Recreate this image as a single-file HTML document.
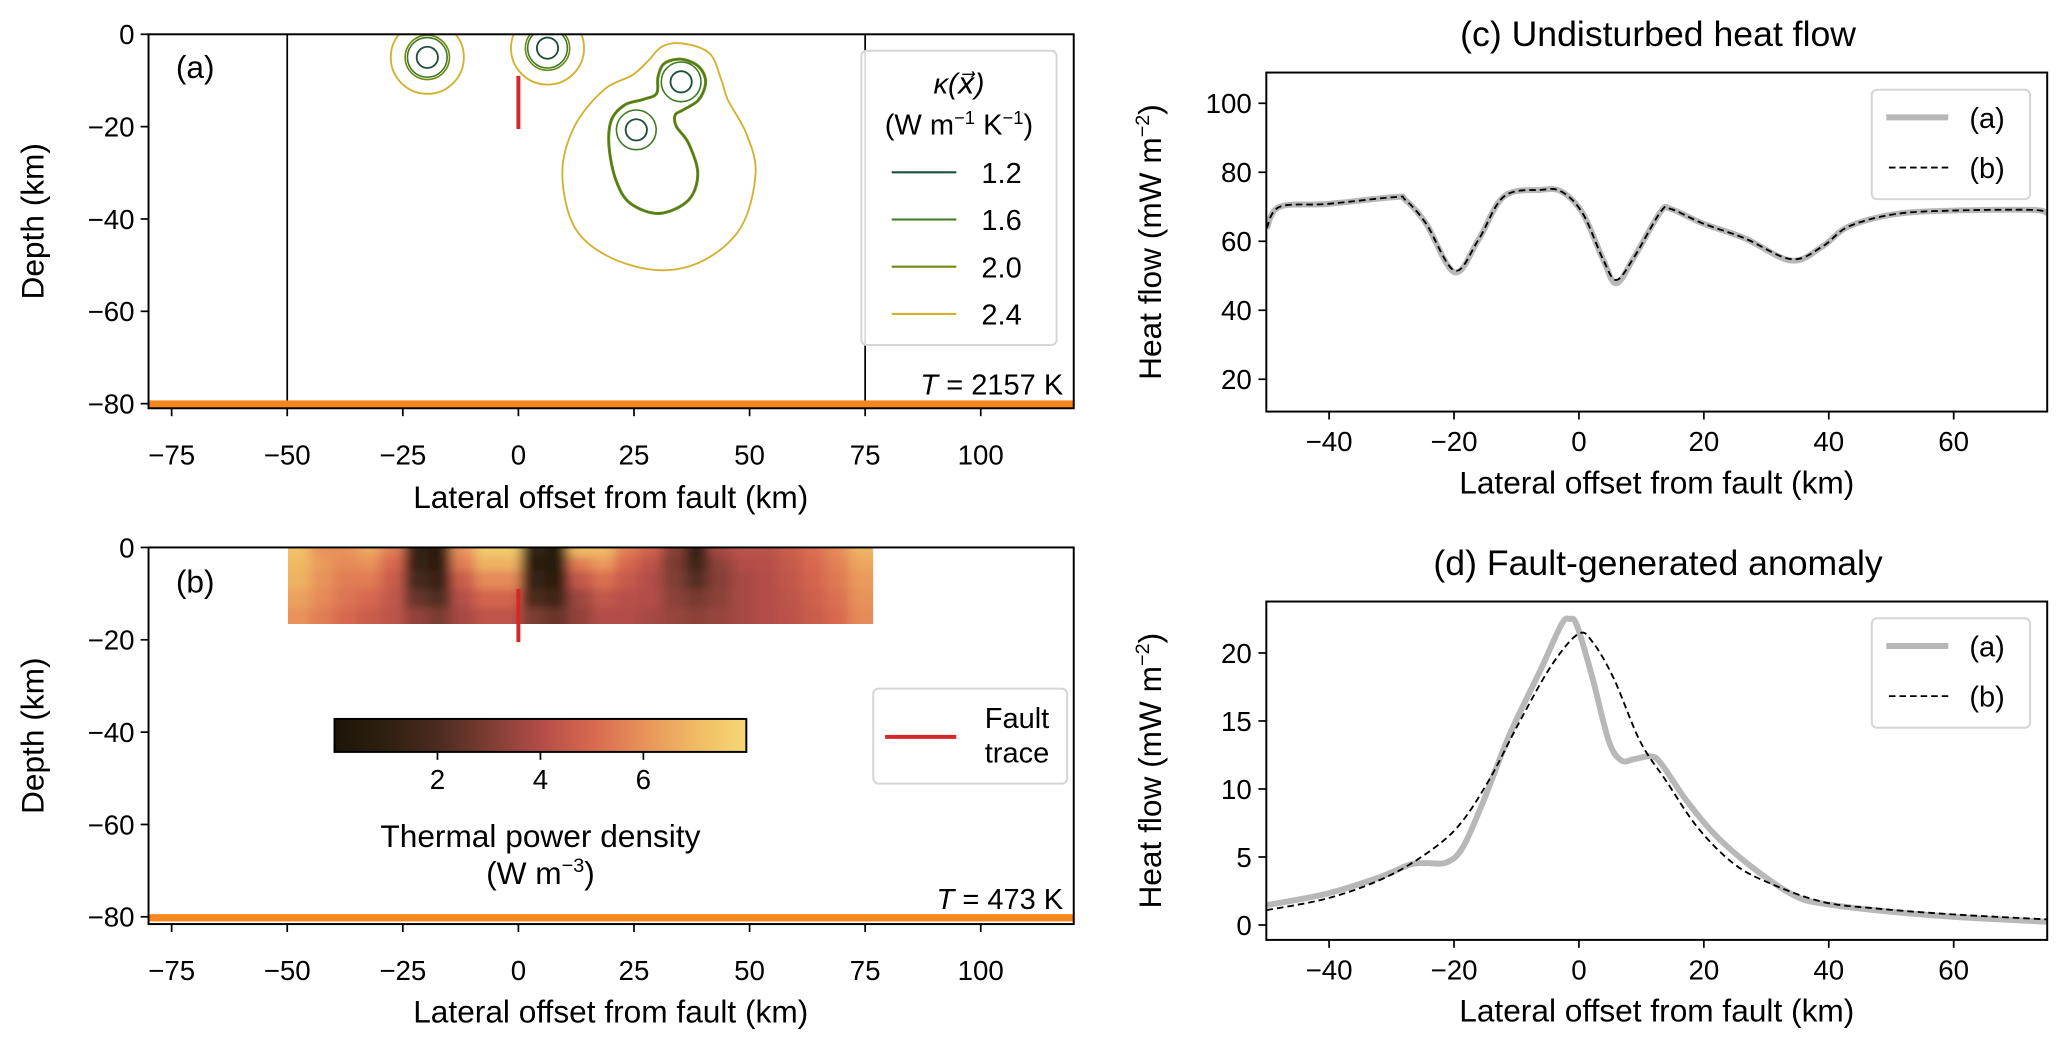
<!DOCTYPE html>
<html><head><meta charset="utf-8">
<style>
html,body{margin:0;padding:0;background:#fff;}
svg{display:block;font-family:"Liberation Sans",sans-serif;}
</style></head>
<body>
<svg id="chart" xmlns="http://www.w3.org/2000/svg" width="2067" height="1054" viewBox="0 0 1567 799" preserveAspectRatio="none">
<defs>
<filter id="heatblur" x="-5%" y="-20%" width="110%" height="140%"><feGaussianBlur stdDeviation="4.5 3"/></filter>
<clipPath id="heatclip"><rect x="218.3" y="415" width="443.6" height="58"/></clipPath>
<clipPath id="clipA"><rect x="112.6" y="26" width="701.4" height="283.5"/></clipPath>
<clipPath id="clipC"><rect x="960" y="55" width="592" height="257"/></clipPath>
<clipPath id="clipD"><rect x="960" y="456" width="592" height="256.5"/></clipPath>
<linearGradient id="cbgrad" x1="0" x2="1" y1="0" y2="0"></linearGradient>
</defs>
</svg>
<script>
// ---------- DATA ----------
const cX_a = [-50,-47.9,-40.4,-29.5,-27.8,-24.5,-19.9,-16.1,-12,-6.1,-2.8,0.6,3.9,6,8.9,13.1,14.8,19.8,26.5,34,39,43.2,50.7,59.9,72.5,75];
const cY_a = [63.8,70.0,70.8,72.8,72.0,65.2,51.0,60.4,73.0,74.9,74.4,68.1,54.6,47.8,55.6,68.6,69.3,65.2,60.9,54.4,58.5,64.3,67.9,68.9,69.1,68.1];
const cX_b = [-50,-47.9,-40.4,-29.5,-27.8,-24.5,-19.9,-16.1,-12,-6.1,-2.8,0.6,3.9,6,8.9,13.1,14.8,19.8,26.5,34,39,43.2,50.7,59.9,72.5,75];
const cY_b = [63.8,70.0,70.8,72.8,72.0,65.2,51.5,60.4,73.0,74.9,74.4,68.1,54.6,48.8,55.6,68.6,69.3,65.2,60.9,54.8,58.5,64.3,67.9,68.9,69.1,68.1];
const dX_a = [-50,-40.4,-32,-27,-24.5,-21.2,-18.6,-15.3,-11.1,-6.1,-2.8,-1.5,-0.3,2.2,4.8,6.8,8.9,11.4,13.1,17.3,22.3,29,34.9,39,47.4,59.9,75];
const dY_a = [1.46,2.3,3.5,4.45,4.55,4.6,5.7,9.1,14.0,18.8,22.1,22.5,22.0,18.1,13.5,12.1,12.2,12.4,11.9,9.1,6.4,3.8,2.07,1.58,1.09,0.6,0.24];
const dX_b = [-50,-40.4,-32,-25.3,-19.5,-14.5,-9.5,-4.4,-0.1,2.2,5.6,9.8,14,19,24.8,30.7,39,47.4,59.9,75];
const dY_b = [1.09,1.94,3.28,4.98,7.17,10.57,14.95,19.08,21.4,20.8,18.1,13.5,10.57,7.17,4.5,3.04,1.7,1.22,0.78,0.41];
const circleCenters = [[-19.7,-5],[6.3,-3]];
const innerCenters = [[-19.7,-5],[6.3,-3],[35.2,-10.3],[25.5,-20.7]];
const contourLevels = ['1.2','1.6','2.0','2.4'];
const contourColors = ['#1d4f3a','#3f7a22','#6e8a12','#d2b12f'];
const ringRadii = [2.3,4.3,4.8,7.9];
const blobMid = [[35.3,-5.4],[39.0,-7.0],[40.5,-10.3],[39.0,-14.2],[35.6,-16.4],[33.9,-17.5],[34.2,-20.0],[36.8,-23.6],[38.8,-30.1],[36.8,-35.9],[30.5,-38.8],[24.2,-36.6],[21.1,-31.6],[19.6,-24.3],[20.1,-18.6],[23.0,-15.3],[27.0,-14.1],[29.9,-12.8],[30.2,-9.2],[31.6,-6.3]];
const blobOuter = [[35.3,-1.95],[41.3,-4.1],[43.9,-9.9],[45.3,-14.2],[49.3,-21.5],[51.3,-30.1],[48.2,-41.7],[40.2,-48.9],[30.5,-51.1],[19.6,-48.2],[12.1,-41.7],[9.5,-30.1],[12.1,-20.0],[18.4,-12.1],[24.7,-8.8],[28.2,-5.6],[31.0,-2.7]];
const heatXmin = -50, heatXmax = 76.5;
const heatRowDepths = [0,-2,-5,-9,-13,-16.5];
const heatRows = [
 [7.2,6.0,6.0,6.5,5.5,1.2,0.8,6.0,7.5,7.5,1.2,0.6,7.0,7.0,5.5,4.8,3.2,1.2,3.8,4.2,4.2,4.6,5.2,5.8,6.8],
 [7.0,6.2,5.8,6.0,5.0,1.2,0.9,5.5,6.8,6.8,0.8,0.6,5.5,6.2,5.0,4.3,3.0,1.5,3.3,4.0,4.1,4.5,5.0,5.6,6.5],
 [6.8,6.0,5.5,5.5,4.6,1.8,1.3,4.6,5.8,5.8,1.2,0.9,4.4,5.2,4.5,4.0,3.1,2.2,3.2,3.8,4.0,4.4,4.9,5.4,6.2],
 [6.4,5.8,5.3,5.0,4.4,2.6,2.1,4.1,4.9,4.9,2.0,1.6,3.6,4.4,4.1,4.0,3.3,2.9,3.3,3.8,4.0,4.3,4.7,5.2,6.0],
 [6.0,5.5,5.0,4.6,4.3,3.4,3.0,3.8,4.3,4.3,3.0,2.6,3.4,4.0,4.0,3.8,3.5,3.3,3.5,3.8,4.0,4.2,4.6,5.0,5.8]
];
const cmapVals = [0,1,2,3,4,5,6,7,8];
const cmapCols = ['#1c1608','#2f1f10','#4b2b1f','#7c3d33','#b24d48','#d8684f','#e8925a','#f0ba65','#f6d874'];
const cbTicks = [2,4,6];
const tickA_x = [-75,-50,-25,0,25,50,75,100];
const tickA_y = [0,-20,-40,-60,-80];
const tickC_x = [-40,-20,0,20,40,60];
const tickC_y = [20,40,60,80,100];
const tickD_y = [0,5,10,15,20];

// ---------- SCALES ----------
const xA = k => 393 + k*3.505;
const yA = d => 26 - d*3.5;
const yB = d => 415 - d*3.5;
const xC = k => 1197 + k*4.735;
const yC = v => 287.5 - (v-20)*2.615;
const yD = v => 701.2 - v*10.31;

const FT = 21, FL = 24, FTI = 27, FLG = 22;

const svg = document.getElementById('chart');
const NS = 'http://www.w3.org/2000/svg';
function mk(tag, attrs, parent){
  const e = document.createElementNS(NS, tag);
  for (const k in attrs) e.setAttribute(k, attrs[k]);
  (parent || svg).appendChild(e);
  return e;
}
function txt(x, y, s, size, anchor, parent){
  const e = mk('text', {x:x, y:y, 'font-size':size, 'text-anchor':anchor||'middle', fill:'#000'}, parent);
  e.textContent = s;
  return e;
}
function smooth(pts, closed){
  const n = pts.length;
  const g = i => closed ? pts[(i+n)%n] : pts[Math.max(0, Math.min(n-1, i))];
  let d = 'M' + pts[0][0].toFixed(2) + ',' + pts[0][1].toFixed(2);
  const m = closed ? n : n-1;
  for (let i=0;i<m;i++){
    const p0=g(i-1), p1=g(i), p2=g(i+1), p3=g(i+2);
    const c1=[p1[0]+(p2[0]-p0[0])/6, p1[1]+(p2[1]-p0[1])/6];
    const c2=[p2[0]-(p3[0]-p1[0])/6, p2[1]-(p3[1]-p1[1])/6];
    d += 'C'+c1[0].toFixed(2)+','+c1[1].toFixed(2)+' '+c2[0].toFixed(2)+','+c2[1].toFixed(2)+' '+p2[0].toFixed(2)+','+p2[1].toFixed(2);
  }
  return d + (closed ? 'Z' : '');
}
function hex2rgb(h){return [1,3,5].map(i=>parseInt(h.substr(i,2),16));}
function cmap(v){
  v = Math.max(cmapVals[0], Math.min(cmapVals[cmapVals.length-1], v));
  for (let i=0;i<cmapVals.length-1;i++){
    if (v <= cmapVals[i+1]){
      const t=(v-cmapVals[i])/(cmapVals[i+1]-cmapVals[i]);
      const a=hex2rgb(cmapCols[i]), b=hex2rgb(cmapCols[i+1]);
      return 'rgb('+a.map((c,j)=>Math.round(c+(b[j]-c)*t)).join(',')+')';
    }
  }
  return cmapCols[cmapCols.length-1];
}
function axisBox(x0,y0,x1,y1,name){
  const r = mk('rect',{x:x0,y:y0,width:x1-x0,height:y1-y0,fill:'none',stroke:'#000','stroke-width':1.5});
  
  
}

// ================= PANEL (a) =================
const gA = mk('g', {});


const gAc = mk('g', {'clip-path':'url(#clipA)'}, gA);


[-50,75].forEach(k=>{
  const l = mk('line',{x1:xA(k),x2:xA(k),y1:26,y2:309.5,stroke:'#000','stroke-width':1.3}, gA);
  
  
});
circleCenters.forEach(c=>{
  const e = mk('ellipse',{cx:xA(c[0]),cy:yA(c[1]),rx:ringRadii[3]*3.505,ry:ringRadii[3]*3.5,fill:'none',stroke:contourColors[3],'stroke-width':1.4}, gAc);
  
  
});
const bo = mk('path',{d:smooth(blobOuter.map(p=>[xA(p[0]),yA(p[1])]),true),fill:'none',stroke:contourColors[3],'stroke-width':1.4}, gAc);


[[2,ringRadii[2]],[1,ringRadii[1]]].forEach(([ci,r])=>{
  circleCenters.forEach(c=>{
    const e = mk('ellipse',{cx:xA(c[0]),cy:yA(c[1]),rx:r*3.505,ry:r*3.5,fill:'none',stroke:contourColors[ci],'stroke-width':1.2}, gAc);
    
    
  });
});
const bm2 = mk('path',{d:smooth(blobMid.map(p=>[xA(p[0]),yA(p[1])]),true),fill:'none',stroke:contourColors[2],'stroke-width':2.3}, gAc);


const bm1 = mk('path',{d:smooth(blobMid.map(p=>[xA(p[0]),yA(p[1])]),true),fill:'none',stroke:contourColors[1],'stroke-width':0.8}, gAc);


innerCenters.forEach((c,i)=>{
  if (i>=2){
    const e2 = mk('ellipse',{cx:xA(c[0]),cy:yA(c[1]),rx:ringRadii[1]*3.505,ry:ringRadii[1]*3.5,fill:'none',stroke:contourColors[1],'stroke-width':1.2}, gAc);
    
    
  }
  const e = mk('ellipse',{cx:xA(c[0]),cy:yA(c[1]),rx:ringRadii[0]*3.505,ry:ringRadii[0]*3.5,fill:'none',stroke:contourColors[0],'stroke-width':1.4}, gAc);
  
  
});
const fa = mk('line',{x1:xA(0),x2:xA(0),y1:yA(-9),y2:yA(-20.5),stroke:'#d62728','stroke-width':3}, gA);


const ba = mk('rect',{x:112.6,y:yA(-79.3),width:701.4,height:yA(-81)-yA(-79.3)-0.5,fill:'#f7861c'}, gA);


axisBox(112.6,26,814,309.5,'axes-frame-a');

// ================= PANEL (b) =================
const gB = mk('g', {});


const gHc = mk('g', {'clip-path':'url(#heatclip)'}, gB);
const gH = mk('g', {filter:'url(#heatblur)'}, gHc);


const nCols = heatRows[0].length;
const colW = (heatXmax-heatXmin)/nCols;
heatRows.forEach((row,ri)=>{
  row.forEach((v,ci)=>{
    let x0 = xA(heatXmin+ci*colW), x1 = xA(heatXmin+(ci+1)*colW);
    let y0 = yB(heatRowDepths[ri]), y1 = yB(heatRowDepths[ri+1]);
    if (ci===0) x0 -= 14;
    if (ci===nCols-1) x1 += 14;
    if (ri===0) y0 -= 14;
    if (ri===heatRows.length-1) y1 += 14;
    const r = mk('rect',{x:x0,y:y0,width:x1-x0+0.6,height:y1-y0+0.6,fill:cmap(v)}, gH);
    
    
  });
});
const fb = mk('line',{x1:xA(0),x2:xA(0),y1:yB(-9),y2:yB(-20.5),stroke:'#d62728','stroke-width':3}, gB);


const bb = mk('rect',{x:112.6,y:693,width:701.4,height:5.5,fill:'#f7861c'}, gB);


axisBox(112.6,415,814,700.5,'axes-frame-b');
const grad = document.getElementById('cbgrad');
cmapVals.forEach((v,i)=>{ mk('stop',{offset:(v/8*100)+'%','stop-color':cmapCols[i]}, grad); });
const cbX0=253.6, cbX1=565.8;
const cbx = v => cbX0 + (v-0)/(8-0)*(cbX1-cbX0);
const cb = mk('rect',{x:cbX0,y:545,width:cbX1-cbX0,height:25,fill:'url(#cbgrad)',stroke:'#000','stroke-width':1.5}, gB);


cbTicks.forEach(t=>{
  mk('line',{x1:cbx(t),x2:cbx(t),y1:570,y2:576,stroke:'#000','stroke-width':1.3}, gB);
  const tl = txt(cbx(t), 598, String(t), FT, 'middle', gB);
  
  
});
const cbl1 = txt(409.7, 642, 'Thermal power density', FL, 'middle', gB);


const cbl2 = mk('text',{x:409.7,y:670,'font-size':FL,'text-anchor':'middle'}, gB);


cbl2.innerHTML = '(W m<tspan font-size="15" dy="-9">−3</tspan><tspan dy="9">)</tspan>';

[[yA,26,309.5,352,385],[yB,415,700.5,743,775]].forEach(([ys,top,bot,tly,xly],pi)=>{
  tickA_x.forEach(k=>{
    mk('line',{x1:xA(k),x2:xA(k),y1:bot,y2:bot+6,stroke:'#000','stroke-width':1.3});
    const t = txt(xA(k), tly, (k<0?'−':'')+Math.abs(k), FT, 'middle');
    
    
  });
  tickA_y.forEach(d=>{
    mk('line',{x1:106.6,x2:112.6,y1:ys(d),y2:ys(d),stroke:'#000','stroke-width':1.3});
    const t = txt(102, ys(d)+7.5, (d<0?'−':'')+Math.abs(d), FT, 'end');
    
    
  });
  const xl = txt(463, xly, 'Lateral offset from fault (km)', FL, 'middle');
  
  
  const cy = (top+bot)/2;
  const yl = mk('text',{x:0,y:0,'font-size':FL,'text-anchor':'middle',transform:'translate(33,'+cy+') rotate(-90)'});
  yl.textContent = 'Depth (km)';
  
  
});
const la = txt(148, 59, '(a)', 24, 'middle');


const lb = txt(148, 449, '(b)', 24, 'middle');


const ta = mk('text',{x:806,y:299,'font-size':FLG,'text-anchor':'end'});
ta.innerHTML = '<tspan font-style="italic">T</tspan> = 2157 K';


const tb = mk('text',{x:806,y:689,'font-size':FLG,'text-anchor':'end'});
tb.innerHTML = '<tspan font-style="italic">T</tspan> = 473 K';



const legA = mk('g',{});


mk('rect',{x:653,y:38.5,width:148,height:223,rx:4,fill:'rgba(255,255,255,0.85)',stroke:'#d5d5d5','stroke-width':1.5}, legA);
const lt1 = mk('text',{x:727,y:71,'font-size':FLG,'text-anchor':'middle','font-style':'italic'}, legA);
lt1.innerHTML = 'κ(<tspan>x⃗</tspan>)';
const lt2 = mk('text',{x:727,y:102,'font-size':FLG,'text-anchor':'middle'}, legA);
lt2.innerHTML = '(W m<tspan font-size="14" dy="-8">−1</tspan><tspan dy="8"> K</tspan><tspan font-size="14" dy="-8">−1</tspan><tspan dy="8">)</tspan>';
contourLevels.forEach((lv,i)=>{
  const y = 130.6 + i*35.8;
  const ln = mk('line',{x1:676,x2:725,y1:y,y2:y,stroke:contourColors[i],'stroke-width':1.6}, legA);
  
  
  const t = txt(744, y+8, lv, FLG, 'start', legA);
  
  
});
const legB = mk('g',{});


mk('rect',{x:662,y:522,width:147,height:72,rx:4,fill:'rgba(255,255,255,0.85)',stroke:'#d5d5d5','stroke-width':1.5}, legB);
mk('line',{x1:671,x2:725,y1:558.6,y2:558.6,stroke:'#d62728','stroke-width':3}, legB);
txt(771, 552, 'Fault', FLG, 'middle', legB);
txt(771, 578, 'trace', FLG, 'middle', legB);

// ================= PANELS (c) & (d) =================
function linePanel(cfg){
  const g = mk('g',{});
  
  
  const gc = mk('g',{'clip-path':cfg.clip}, g);
  const pa = cfg.xa.map((x,i)=>[xC(x), cfg.ys(cfg.ya[i])]);
  const pb = cfg.xb.map((x,i)=>[xC(x), cfg.ys(cfg.yb[i])]);
  const sa = mk('path',{d:smooth(pa,false),fill:'none',stroke:'#b8b8b8','stroke-width':4.5,'stroke-linejoin':'round'}, gc);
  
  
  const sb = mk('path',{d:smooth(pb,false),fill:'none',stroke:'#000','stroke-width':1.4,'stroke-dasharray':'5,3'}, gc);
  
  
  axisBox(960,cfg.top,1552,cfg.bot,'axes-frame');
  tickC_x.forEach(k=>{
    mk('line',{x1:xC(k),x2:xC(k),y1:cfg.bot,y2:cfg.bot+6,stroke:'#000','stroke-width':1.3}, g);
    const t = txt(xC(k), cfg.bot+30, (k<0?'−':'')+Math.abs(k), FT, 'middle', g);
    
    
  });
  cfg.yt.forEach(v=>{
    mk('line',{x1:954,x2:960,y1:cfg.ys(v),y2:cfg.ys(v),stroke:'#000','stroke-width':1.3}, g);
    const t = txt(949, cfg.ys(v)+7.5, String(v), FT, 'end', g);
    
    
  });
  const xl = txt(1256, cfg.bot+62, 'Lateral offset from fault (km)', FL, 'middle', g);
  
  
  const cy = (cfg.top+cfg.bot)/2;
  const yl = mk('text',{x:0,y:0,'font-size':FL,'text-anchor':'middle',transform:'translate(880,'+cy+') rotate(-90)'}, g);
  yl.innerHTML = 'Heat flow (mW m<tspan font-size="15" dy="-9">−2</tspan><tspan dy="9">)</tspan>';
  
  
  const ti = txt(1257, cfg.top-20, cfg.title, FTI, 'middle', g);
  
  
  const lg = mk('g',{}, g);
  
  
  mk('rect',{x:1419,y:cfg.ly-21,width:120,height:83,rx:4,fill:'rgba(255,255,255,0.85)',stroke:'#d5d5d5','stroke-width':1.5}, lg);
  mk('line',{x1:1430,x2:1477,y1:cfg.ly,y2:cfg.ly,stroke:'#b8b8b8','stroke-width':4.5}, lg);
  mk('line',{x1:1432,x2:1477,y1:cfg.ly+38,y2:cfg.ly+38,stroke:'#000','stroke-width':1.4,'stroke-dasharray':'5,3'}, lg);
  const l1 = txt(1493, cfg.ly+8, '(a)', FLG, 'start', lg);
  
  
  const l2 = txt(1493, cfg.ly+46, '(b)', FLG, 'start', lg);
  
  
}
linePanel({name:'panel-c',clip:'url(#clipC)',xa:cX_a,ya:cY_a,xb:cX_b,yb:cY_b,ys:yC,top:55,bot:312,yt:tickC_y,title:'(c) Undisturbed heat flow',ly:89});
linePanel({name:'panel-d',clip:'url(#clipD)',xa:dX_a,ya:dY_a,xb:dX_b,yb:dY_b,ys:yD,top:456,bot:712.5,yt:tickD_y,title:'(d) Fault-generated anomaly',ly:489.7});
</script>
</body></html>
